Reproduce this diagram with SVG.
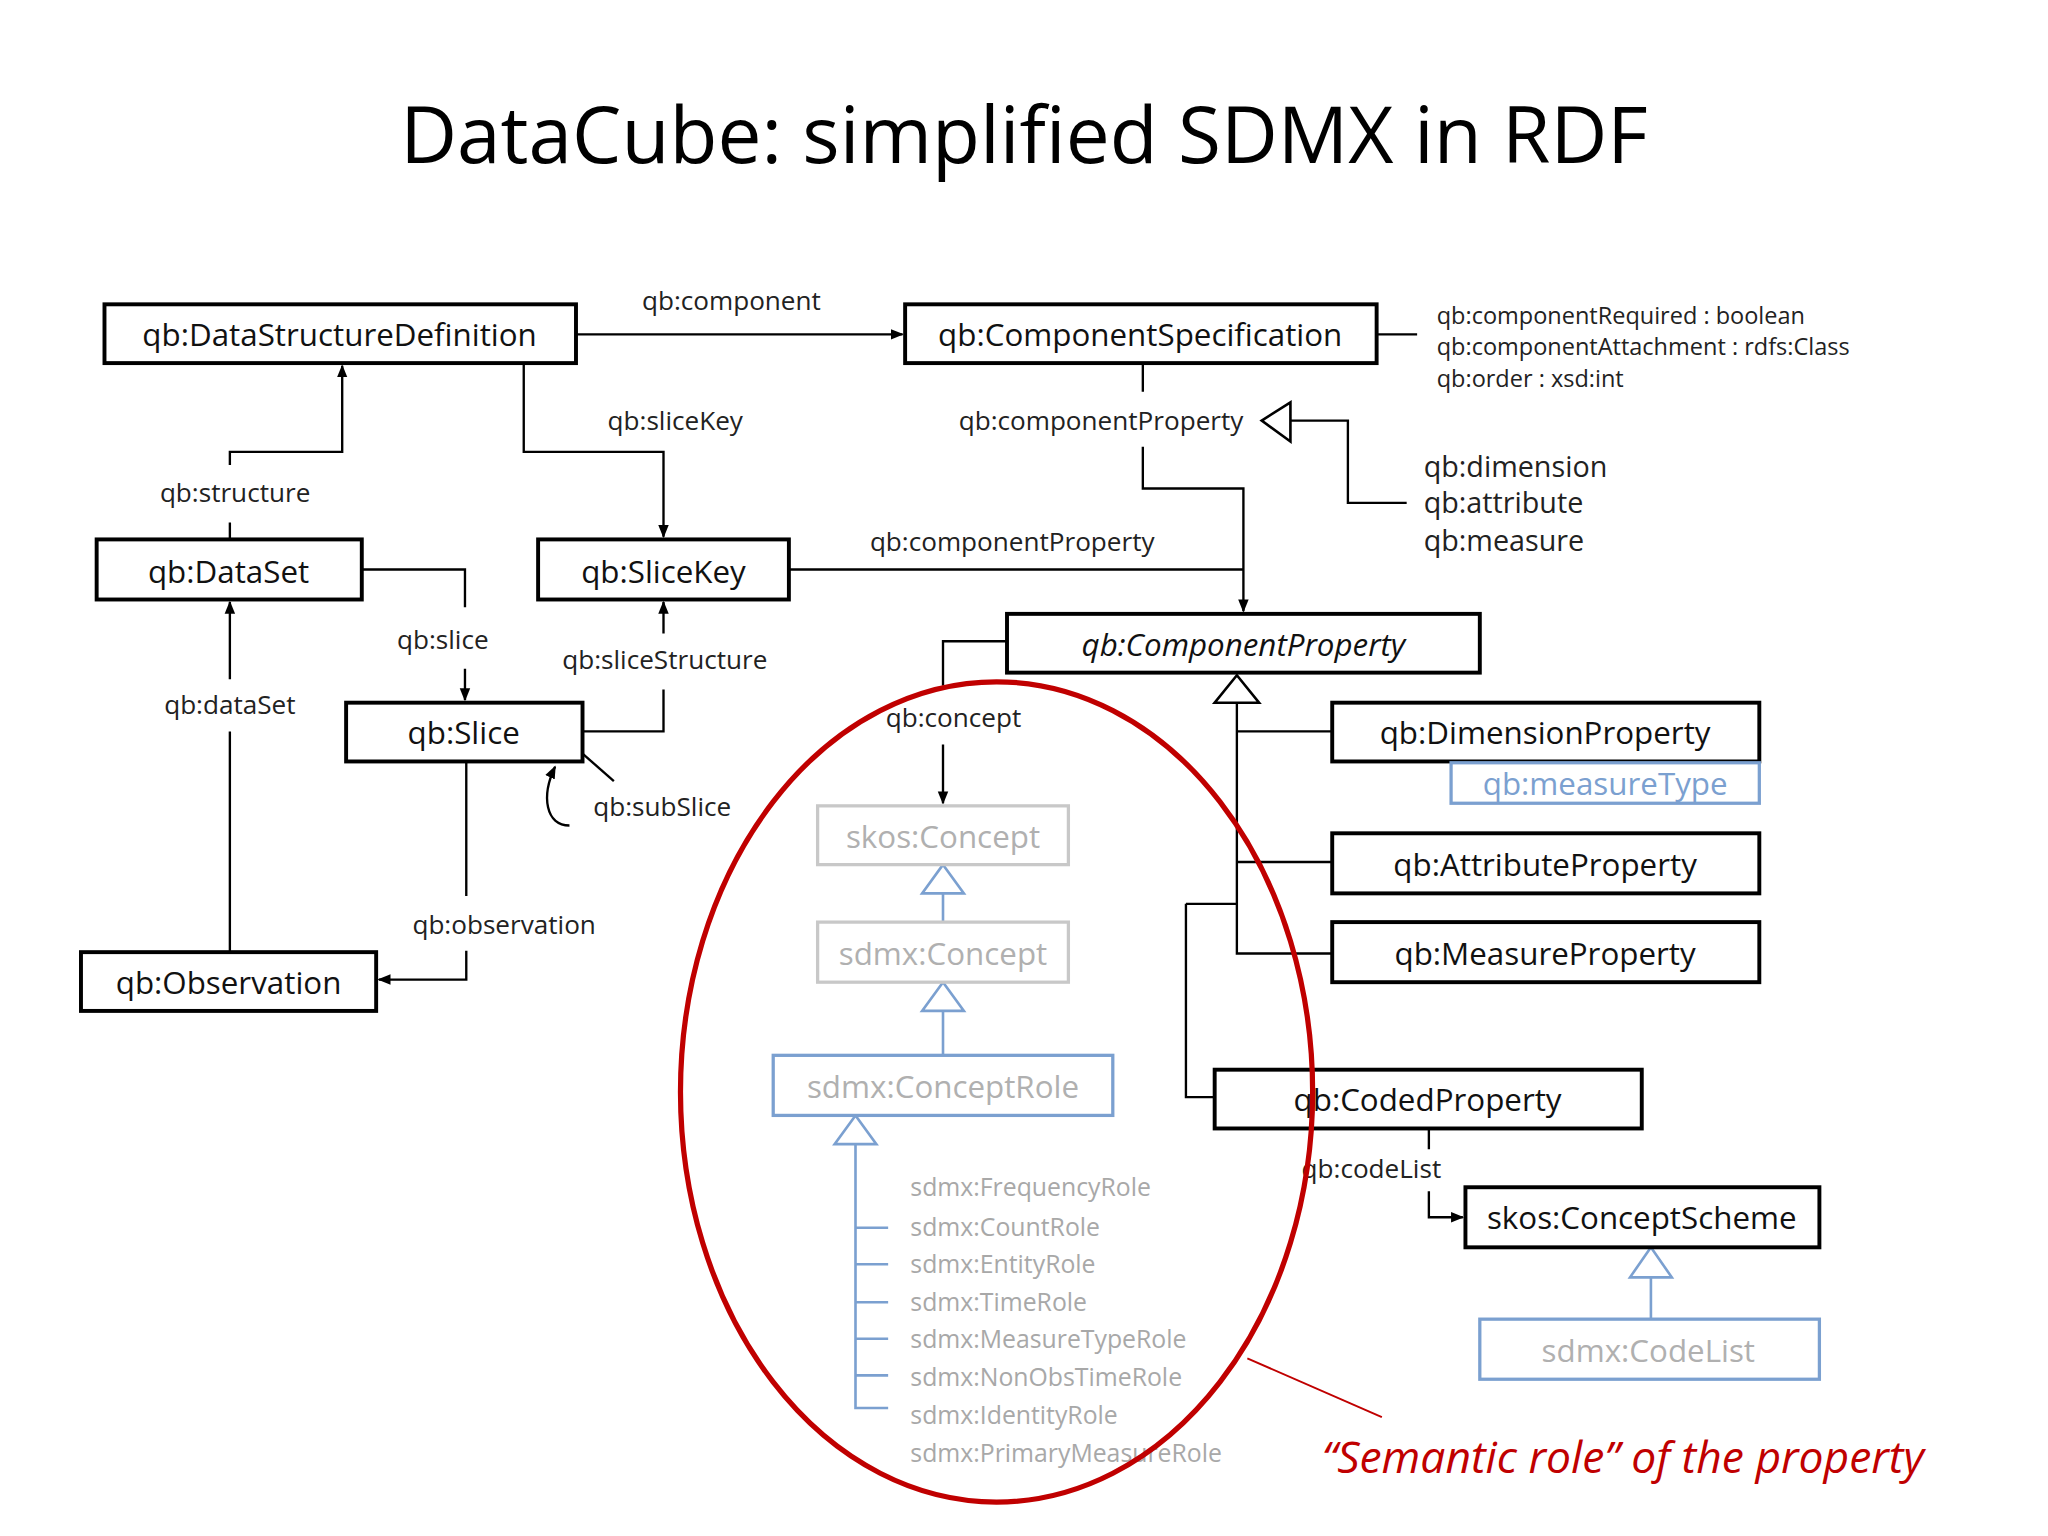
<svg xmlns="http://www.w3.org/2000/svg" width="2048" height="1536" viewBox="0 0 2048 1536">
<defs>
<style>
text{font-family:"Open Sans","Liberation Sans",sans-serif}
.b{fill:#fff;stroke:#000;stroke-width:3}
.g{fill:#fff;stroke:#c8c8c8;stroke-width:2.5}
.bl{fill:#fff;stroke:#7ba0d0;stroke-width:2.5}
.t{font-size:24px;text-anchor:middle;fill:#111}
.tg{font-size:24px;text-anchor:middle;fill:#b0b0b0}
.l{font-size:20px;fill:#222}
.c{fill:none;stroke:#000;stroke-width:1.8}
.cb{fill:none;stroke:#7ba0d0;stroke-width:2}
.r{font-size:19px;fill:#a8a8a8}
</style>
<marker id="a" markerWidth="10" markerHeight="10" refX="9" refY="5" orient="auto" markerUnits="userSpaceOnUse"><path d="M0,1 L10,5 L0,9z" fill="#000"/></marker>
</defs>
<rect width="2048" height="1536" fill="#fff"/>
<g transform="scale(1.3061)">
<text x="784" y="125" font-size="60" text-anchor="middle" fill="#000">DataCube: simplified SDMX in RDF</text>
<g id="connectors">
<path class="c" d="M441,256H691" marker-end="url(#a)"/>
<text class="l" x="560" y="237" text-anchor="middle">qb:component</text>
<path class="c" d="M1054,256H1085"/>
<path class="c" d="M875,278V300M875,342V374H952V468" marker-end="url(#a)"/>
<text class="l" x="843" y="329" text-anchor="middle">qb:componentProperty</text>
<polygon points="966,322 988,308 988,338" fill="#fff" stroke="#000" stroke-width="2"/>
<path class="c" d="M988,322H1032V385H1077"/>
<path class="c" d="M604,436H952"/>
<text class="l" x="775" y="422" text-anchor="middle">qb:componentProperty</text>
<path class="c" d="M401,278V346H508V411" marker-end="url(#a)"/>
<text class="l" x="517" y="329" text-anchor="middle">qb:sliceKey</text>
<path class="c" d="M176,413V400M176,356V346H262V280" marker-end="url(#a)"/>
<text class="l" x="180" y="384" text-anchor="middle">qb:structure</text>
<path class="c" d="M277,436H356V465M356,512V536" marker-end="url(#a)"/>
<text class="l" x="339" y="497" text-anchor="middle">qb:slice</text>
<path class="c" d="M446,560H508V528M508,485V461" marker-end="url(#a)"/>
<text class="l" x="509" y="512" text-anchor="middle">qb:sliceStructure</text>
<path class="c" d="M446,577L470,598"/>
<path class="c" d="M436,632C418,632 414,610 425,587" marker-end="url(#a)"/>
<text class="l" x="507" y="625" text-anchor="middle">qb:subSlice</text>
<path class="c" d="M176,729V560M176,520V461" marker-end="url(#a)"/>
<text class="l" x="176" y="547" text-anchor="middle">qb:dataSet</text>
<path class="c" d="M357,583V686M357,728V750H290" marker-end="url(#a)"/>
<text class="l" x="386" y="715" text-anchor="middle">qb:observation</text>
<path class="c" d="M771,491H722V525M722,570V615" marker-end="url(#a)"/>
<text class="l" x="730" y="557" text-anchor="middle">qb:concept</text>
<polygon points="947,517 930,538 964,538" fill="#fff" stroke="#000" stroke-width="2"/>
<path class="c" d="M947,538V730H1020M947,560H1020M947,660H1020M908,692H947M908,692V840H930"/>
<path class="c" d="M1094,864V880M1094,912V932H1120" marker-end="url(#a)"/>
<text class="l" x="1050" y="902" text-anchor="middle">qb:codeList</text>
<polygon points="1264,955 1248,978 1280,978" fill="#fff" stroke="#7ba0d0" stroke-width="2"/>
<path class="cb" d="M1264,978V1010"/>
<polygon points="722,662 706,684 738,684" fill="#fff" stroke="#7ba0d0" stroke-width="2"/>
<path class="cb" d="M722,684V706"/>
<polygon points="722,752 706,774 738,774" fill="#fff" stroke="#7ba0d0" stroke-width="2"/>
<path class="cb" d="M722,774V808"/>
<polygon points="655,854 639,876 671,876" fill="#fff" stroke="#7ba0d0" stroke-width="2"/>
<path class="cb" d="M655,876V1078H680M655,940H680M655,968H680M655,997H680M655,1025H680M655,1053H680"/>
</g>
<g id="cs-attrs" font-size="18">
<text class="l" style="font-size:18px" x="1100" y="248">qb:componentRequired : boolean</text>
<text class="l" style="font-size:18px" x="1100" y="272">qb:componentAttachment : rdfs:Class</text>
<text class="l" style="font-size:18px" x="1100" y="296">qb:order : xsd:int</text>
</g>
<g id="prop-kinds">
<text class="l" style="font-size:22px" x="1090" y="365">qb:dimension</text>
<text class="l" style="font-size:22px" x="1090" y="393">qb:attribute</text>
<text class="l" style="font-size:22px" x="1090" y="422">qb:measure</text>
</g>
<g id="dsd"><rect class="b" x="80" y="233" width="361" height="45"/><text class="t" x="260" y="265">qb:DataStructureDefinition</text></g>
<g id="cspec"><rect class="b" x="693" y="233" width="361" height="45"/><text class="t" x="873" y="265">qb:ComponentSpecification</text></g>
<g id="dataset"><rect class="b" x="74" y="413" width="203" height="46"/><text class="t" x="175" y="446">qb:DataSet</text></g>
<g id="slicekey"><rect class="b" x="412" y="413" width="192" height="46"/><text class="t" x="508" y="446">qb:SliceKey</text></g>
<g id="slice"><rect class="b" x="265" y="538" width="181" height="45"/><text class="t" x="355" y="570">qb:Slice</text></g>
<g id="observation"><rect class="b" x="62" y="729" width="226" height="45"/><text class="t" x="175" y="761">qb:Observation</text></g>
<g id="cprop"><rect class="b" x="771" y="470" width="362" height="45"/><text class="t" x="952" y="502" font-style="italic">qb:ComponentProperty</text></g>
<g id="dimprop"><rect class="b" x="1020" y="538" width="327" height="45"/><text class="t" x="1183" y="570">qb:DimensionProperty</text></g>
<g id="measuretype"><rect class="bl" x="1111" y="584" width="236" height="31"/><text class="t" x="1229" y="609" fill="#7ba0d0" style="fill:#7ba0d0">qb:measureType</text></g>
<g id="attrprop"><rect class="b" x="1020" y="638" width="327" height="46"/><text class="t" x="1183" y="671">qb:AttributeProperty</text></g>
<g id="measprop"><rect class="b" x="1020" y="706" width="327" height="46"/><text class="t" x="1183" y="739">qb:MeasureProperty</text></g>
<g id="coded"><rect class="b" x="930" y="819" width="327" height="45"/><text class="t" x="1093" y="851">qb:CodedProperty</text></g>
<g id="cscheme"><rect class="b" x="1122" y="909" width="271" height="46"/><text class="t" x="1257" y="941">skos:ConceptScheme</text></g>
<g id="codelist"><rect class="bl" x="1133" y="1010" width="260" height="46"/><text class="tg" x="1262" y="1043">sdmx:CodeList</text></g>
<g id="skosconcept"><rect class="g" x="626" y="617" width="192" height="45"/><text class="tg" x="722" y="649">skos:Concept</text></g>
<g id="sdmxconcept"><rect class="g" x="626" y="706" width="192" height="46"/><text class="tg" x="722" y="739">sdmx:Concept</text></g>
<g id="conceptrole"><rect class="bl" x="592" y="808" width="260" height="46"/><text class="tg" x="722" y="841">sdmx:ConceptRole</text></g>
<g id="roles">
<text class="r" x="697" y="916">sdmx:FrequencyRole</text>
<text class="r" x="697" y="946">sdmx:CountRole</text>
<text class="r" x="697" y="975">sdmx:EntityRole</text>
<text class="r" x="697" y="1004">sdmx:TimeRole</text>
<text class="r" x="697" y="1032">sdmx:MeasureTypeRole</text>
<text class="r" x="697" y="1061">sdmx:NonObsTimeRole</text>
<text class="r" x="697" y="1090">sdmx:IdentityRole</text>
<text class="r" x="697" y="1119">sdmx:PrimaryMeasureRole</text>
</g>
<g id="annotation">
<ellipse cx="763" cy="836" rx="242" ry="314" fill="none" stroke="#c00000" stroke-width="4"/>
<path d="M955,1040L1058,1085" stroke="#c00000" stroke-width="1.5" fill="none"/>
<text x="1012" y="1128" font-size="34" font-style="italic" fill="#c00000">“Semantic role” of the property</text>
</g>
</g>
</svg>
